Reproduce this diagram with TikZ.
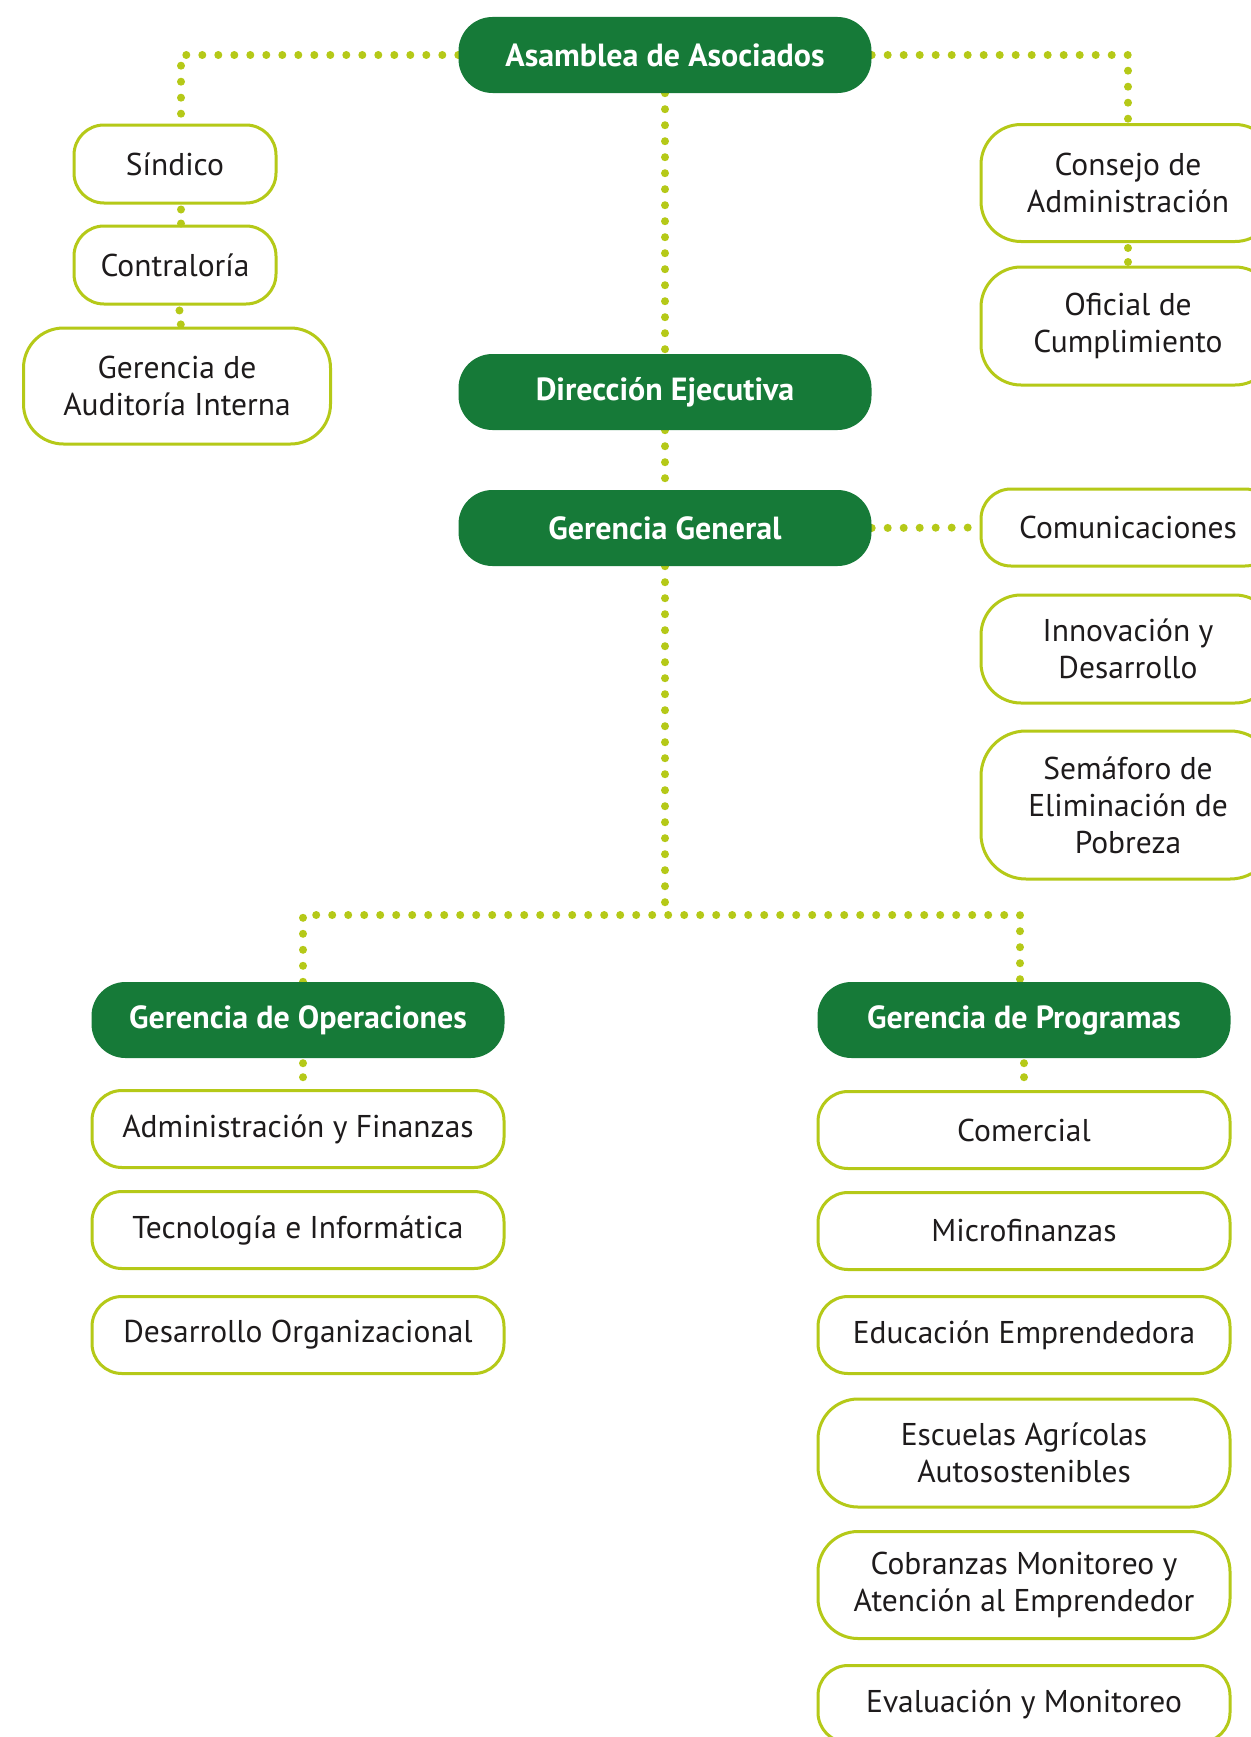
\documentclass[tikz,border=0pt]{standalone}
\usepackage{fontspec}
\setmainfont{PT Sans}
\usetikzlibrary{backgrounds}
\definecolor{dkgreen}{HTML}{167A38}
\definecolor{lime}{HTML}{B5C918}
\definecolor{txt}{HTML}{1E1B1C}
\begin{document}
\begin{tikzpicture}[x=1pt,y=-1pt,
  gbox/.style={fill=dkgreen, text=white, font=\bfseries\fontsize{32}{38}\selectfont,
    rounded corners=34pt, minimum width=413pt, minimum height=76pt, inner sep=0pt},
  wbox/.style={draw=lime, line width=3pt, fill=white, text=txt,
    font=\fontsize{31.5}{37}\selectfont, align=center, rounded corners=30pt, inner sep=0pt},
  tallbox/.style={wbox, rounded corners=40pt},
  dots/.style={draw=lime, line width=8pt, line cap=round, dash pattern=on 0pt off 16pt},
  shortdots/.style={draw=lime, line width=8pt, line cap=round, dash pattern=on 0pt off 14pt, dash phase=9pt}]
\useasboundingbox (0,0) rectangle (1250,1737);
% main column
\node[gbox] (asam) at (665,55) {Asamblea de Asociados};
\node[gbox] (dir) at (665,392) {Dirección Ejecutiva};
\node[gbox] (gg) at (665,528) {Gerencia General};
% left column
\node[wbox, minimum width=202pt, minimum height=78pt] (sind) at (175,164) {Síndico};
\node[wbox, minimum width=202pt, minimum height=78pt] (contra) at (175,265) {Contraloría};
\node[tallbox, minimum width=307pt, minimum height=116pt] (audit) at (177,386) {Gerencia de\\Auditoría Interna};
% right column
\node[tallbox, minimum width=294pt, minimum height=117pt] (consejo) at (1128,183) {Consejo de\\Administración};
\node[tallbox, minimum width=294pt, minimum height=118pt] (oficial) at (1128,326) {Oficial de\\Cumplimiento};
\node[wbox, minimum width=294pt, minimum height=77pt] (comun) at (1128,527.5) {Comunicaciones};
\node[tallbox, minimum width=294pt, minimum height=108pt] (innov) at (1128,649) {Innovación y\\Desarrollo};
\node[tallbox, rounded corners=45pt, minimum width=294pt, minimum height=148pt] (semaf) at (1128,805) {Semáforo de\\Eliminación de\\Pobreza};
% operations
\node[gbox] (oper) at (298,1020) {Gerencia de Operaciones};
\node[wbox, minimum width=412pt, minimum height=77pt] (admin) at (298,1129) {Administración y Finanzas};
\node[wbox, minimum width=412pt, minimum height=77pt] (tecno) at (298,1230) {Tecnología e Informática};
\node[wbox, minimum width=412pt, minimum height=77pt] (desorg) at (298,1335) {Desarrollo Organizacional};
% programs
\node[gbox] (prog) at (1024,1020) {Gerencia de Programas};
\node[wbox, minimum width=412pt, minimum height=77pt] (comer) at (1024,1130) {Comercial};
\node[wbox, minimum width=412pt, minimum height=77pt] (micro) at (1024,1231) {Microfinanzas};
\node[wbox, minimum width=412pt, minimum height=77pt] (educ) at (1024,1335) {Educación Emprendedora};
\node[tallbox, minimum width=412pt, minimum height=108pt] (escu) at (1024,1453) {Escuelas Agrícolas\\Autosostenibles};
\node[tallbox, minimum width=412pt, minimum height=107pt] (cobr) at (1024,1585) {Cobranzas Monitoreo y\\Atención al Emprendedor};
\node[wbox, minimum width=412pt, minimum height=77pt] (eval) at (1024,1704) {Evaluación y Monitoreo};
\begin{pgfonlayer}{background}
\fill[white] (0,0) rectangle (1250,1737);
\draw[dots] (asam.west) -| ([xshift=6pt]sind.north);
\draw[dots] (asam.east) -| (consejo.north);
\draw[dots] (asam.south) -- (dir.north);
\draw[dots] (dir.south) -- (gg.north);
\draw[dots] (gg.east) -- (comun.west);
\coordinate (bus) at (665,915);
\draw[dots] (gg.south) -- (bus);
\draw[dots] ([xshift=5pt]oper.north) |- (bus) -| ([xshift=-4pt]prog.north);
\end{pgfonlayer}
% short links drawn over the boxes so both dots show
\draw[shortdots] ([xshift=6pt]sind.south) -- ([xshift=6pt]contra.north);
\draw[shortdots] ([xshift=4pt]contra.south) -- ([xshift=4pt]audit.north);
\draw[shortdots] (consejo.south) -- (oficial.north);
\draw[shortdots] ([xshift=5pt]oper.south) -- ([xshift=5pt]admin.north);
\draw[shortdots] (prog.south) -- (comer.north);
\end{tikzpicture}
\end{document}
